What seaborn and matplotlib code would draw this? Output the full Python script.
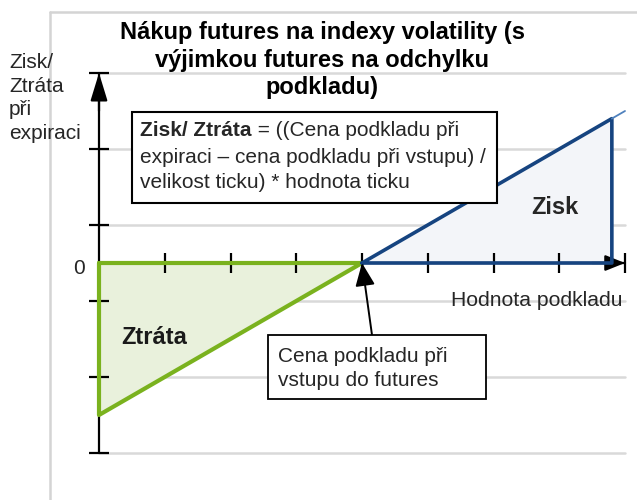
import numpy as np
import pandas as pd
import matplotlib
matplotlib.use("Agg")
import matplotlib.pyplot as plt
import seaborn as sns
from matplotlib.patches import Rectangle
from matplotlib.text import Annotation

# ---- data (payoff diagram, arbitrary units) ----
loss_price = [0, 0, 4, 0]
loss_pl = [0, -4, 0, 0]
gain_price = [4, 7.8, 7.8, 4]
gain_pl = [0, 3.8, 0, 0]
ext_price = [7.8, 8]
ext_pl = [3.8, 4]
x_ticks = [1, 2, 3, 4, 5, 6, 7, 8]
y_ticks = [-5, -3, -1, 1, 3, 5]

title = "Nákup futures na indexy volatility (s\nvýjimkou futures na odchylku\npodkladu)"
ylabel = "Zisk/\nZtráta\npři\nexpiraci"
xlabel = "Hodnota podkladu"
formula_bold = "Zisk/ Ztráta"
formula_rest1 = " = ((Cena podkladu při"
formula_rest2 = "expiraci – cena podkladu při vstupu) /\nvelikost ticku) * hodnota ticku"
entry_label = "Cena podkladu při\nvstupu do futures"

GREEN = "#7AB21E"
GREEN_FILL = "#E9F1DC"
BLUE = "#164480"
BLUE_FILL = "#F3F5F9"
GRID = "#D9D9D9"

sns.set_style("white")
plt.rcParams["font.family"] = ["Liberation Sans", "DejaVu Sans"]

W, H = 637, 500
fig = plt.figure(figsize=(W / 100, H / 100), dpi=100)
ax = fig.add_axes([0, 0, 1, 1])

XL = (-99 / 65.75, (W - 99) / 65.75)
YL = ((263 - H) / 38, 263 / 38)

def P(x, y):
    return (x / W, 1 - y / H)

# outer frame lines (gray)
ax.plot([50 / W, 50 / W], [0, 1 - 12 / H], color="#D4D4D4", lw=1.8, transform=ax.transAxes, zorder=0)
ax.plot([50 / W, 1], [1 - 12 / H, 1 - 12 / H], color="#D4D4D4", lw=1.8, transform=ax.transAxes, zorder=0)

# gridlines
for yv in y_ticks:
    ax.plot([0, 8], [yv, yv], color=GRID, lw=1.8, zorder=1)

# fills
ax.fill(loss_price, loss_pl, color=GREEN_FILL, zorder=2, lw=0)
ax.fill(gain_price, gain_pl, color=BLUE_FILL, zorder=2, lw=0)

# axes lines
ax.plot([0, 8], [0, 0], color="black", lw=1.6, zorder=3)
ax.plot([0, 0], [-5, 5], color="black", lw=1.6, zorder=3)
ax.plot(np.zeros(len(y_ticks)), y_ticks, ls="", marker="_", ms=14.5, mew=1.6, color="black", zorder=3)
ax.plot(x_ticks, np.zeros(len(x_ticks)), ls="", marker="|", ms=14.5, mew=1.6, color="black", zorder=3)

# arrowheads
ax.annotate("", xy=(0, 5), xytext=(0, 4), arrowprops=dict(arrowstyle="-|>,head_length=0.85,head_width=0.26",
            mutation_scale=20, color="black", lw=1.6, shrinkA=0, shrinkB=0), zorder=4)
ax.annotate("", xy=(8, 0), xytext=(7.5, 0), arrowprops=dict(arrowstyle="-|>,head_length=0.6,head_width=0.24",
            mutation_scale=20, color="black", lw=1.6, shrinkA=0, shrinkB=0), zorder=4)

# payoff lines via seaborn
loss_df = pd.DataFrame({"price": loss_price, "pl": loss_pl})
gain_df = pd.DataFrame({"price": gain_price, "pl": gain_pl})
ext_df = pd.DataFrame({"price": ext_price, "pl": ext_pl})
sns.lineplot(data=loss_df, x="price", y="pl", sort=False, estimator=None, color=GREEN, lw=3.0, ax=ax, zorder=5)
sns.lineplot(data=gain_df, x="price", y="pl", sort=False, estimator=None, color=BLUE, lw=2.6, ax=ax, zorder=5)
sns.lineplot(data=ext_df, x="price", y="pl", sort=False, estimator=None, color="#4F81BD", lw=1.3, ax=ax, zorder=5)
ax.set_xlim(*XL)
ax.set_ylim(*YL)
ax.set_axis_off()

# title
fig.text(*P(322, 60), title, ha="center", va="center", fontsize=17, fontweight="bold",
         linespacing=1.27, color="black")

# y label
fig.text(*P(9, 98), ylabel, ha="left", va="center", fontsize=15, linespacing=1.31)
fig.text(*P(79, 268), "0", ha="center", va="center", fontsize=15)

# x label
fig.text(*P(537, 300), xlabel, ha="center", va="center", fontsize=15.2)

# formula box
fig.patches.append(Rectangle(P(132, 203), (497 - 132) / W, (203 - 112) / H, transform=fig.transFigure,
                             facecolor="white", edgecolor="black", lw=1.5, zorder=6))
tb = fig.text(*P(140, 131), formula_bold, ha="left", va="center", fontsize=15, fontweight="bold", zorder=7)
ann = Annotation(formula_rest1, xy=(1, 0), xycoords=tb, ha="left", va="bottom", fontsize=15,
                 annotation_clip=False, zorder=7)
fig.add_artist(ann)
fig.text(*P(140, 170), formula_rest2, ha="left", va="center", fontsize=15, linespacing=1.42, zorder=7)

# region labels
ax.text(*ax.transData.inverted().transform(fig.transFigure.transform(P(555, 208))), "Zisk",
        ha="center", va="center", fontsize=17, fontweight="bold", zorder=7)
ax.text(*ax.transData.inverted().transform(fig.transFigure.transform(P(154, 337))), "Ztráta",
        ha="center", va="center", fontsize=17, fontweight="bold", color="#1A1A1A", zorder=7)

# entry price callout
fig.patches.append(Rectangle(P(268, 399), (486 - 268) / W, (399 - 335) / H, transform=fig.transFigure,
                             facecolor="white", edgecolor="black", lw=1.3, zorder=6))
fig.text(*P(278, 368.5), entry_label, ha="left", va="center", fontsize=15, linespacing=1.37, zorder=7)
ax.annotate("", xy=(4, 0), xycoords="data", xytext=P(372, 335), textcoords="figure fraction",
            arrowprops=dict(arrowstyle="-|>,head_length=0.7,head_width=0.3", mutation_scale=20,
                            color="black", lw=1.4, shrinkA=0, shrinkB=0), zorder=8)

fig.savefig("out.png", dpi=100)
